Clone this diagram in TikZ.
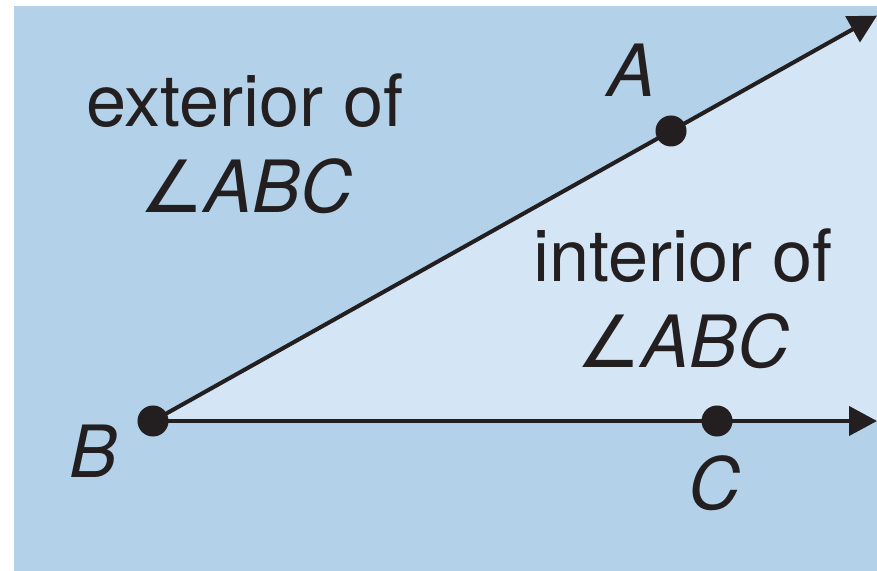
\documentclass[tikz,border=0pt]{standalone}
\usepackage{fontspec}
\setmainfont{TeX Gyre Heros}
\newfontfamily\symfont{DejaVu Sans}
\usepackage{xcolor}
\usepackage{tikz}
\usetikzlibrary{calc}
\usetikzlibrary{arrows.meta}

\definecolor{outside}{RGB}{179,209,232}
\definecolor{inside}{RGB}{212,229,245}
\definecolor{ink}{RGB}{35,31,32}
\newcommand{\angABC}{{\symfont\itshape ∠}\textit{ABC}}

\begin{document}
\begin{tikzpicture}[x=0.01cm,y=-0.01cm]
  \tikzset{every node/.style={font=\fontsize{20.5}{24}\selectfont,inner sep=0pt,text=ink},
    dot/.style={shape=circle,fill=ink,minimum size=0.31cm},
    ray/.style={line width=1.15pt,ink,-{Triangle[length=0.28cm,width=0.29cm]}},
    txt/.style={anchor=base}};
  \useasboundingbox (0,0) rectangle (877,571);
  \fill[outside] (14,6) rectangle (877,571);
  \coordinate (B) at (153,421);
  \coordinate (A) at (671,131);
  \coordinate (C) at (717,421);
  \coordinate (tipA) at ($(B)!1.3977!(A)$);
  \coordinate (tipC) at (877,421);
  \fill[inside] (B) -- (tipA) -- (tipC) -- cycle;
  \draw[ray] (B) -- (tipA);
  \draw[ray] (B) -- (tipC);
  \node [dot] (dotB) at (B) {};
  \node [dot] (dotA) at (A) {};
  \node [dot] (dotC) at (C) {};
  \node [txt] (labA) at (632,97) {\textit{A}};
  \node [txt] (labB) at (94,478) {\textit{B}};
  \node [txt] (labC) at (715,510) {\textit{C}};
  \node [txt] (ext) at (245,127) {exterior of};
  \node [txt] (extang) at (246,213) {\angABC};
  \node [txt] (int) at (683,282) {interior of};
  \node [txt] (intang) at (683,368) {\angABC};
\end{tikzpicture}
\end{document}
